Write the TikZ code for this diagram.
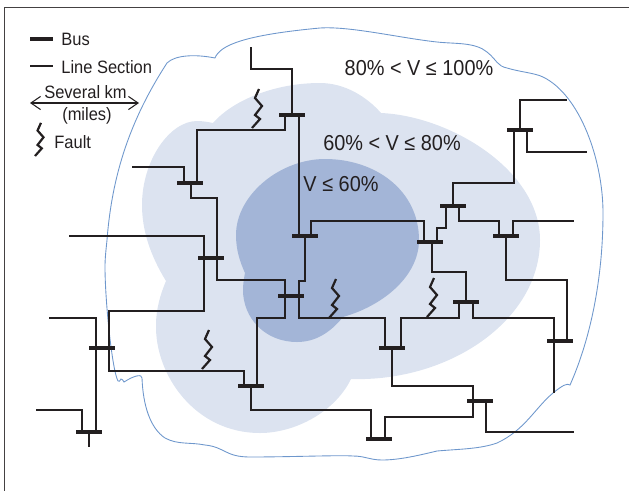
\documentclass[tikz,border=0pt]{standalone}
\usepackage{fontspec}
\setmainfont[FakeStretch=0.92]{Liberation Sans}
\usetikzlibrary{arrows.meta}
\definecolor{SagLight}{RGB}{220,227,240}
\definecolor{SagDark}{RGB}{163,181,215}
\definecolor{SagEdge}{RGB}{110,151,204}
\definecolor{InkDark}{RGB}{35,31,32}
\tikzset{
  busbar/.style={fill=InkDark, inner sep=0pt, minimum width=0.52cm, minimum height=2.1pt},
  section/.style={InkDark, line width=0.7pt, line join=miter},
  zonelabel/.style={text=InkDark, font=\fontsize{12.3}{14}\selectfont, inner sep=0pt},
  keylabel/.style={text=InkDark, font=\fontsize{10.2}{12}\selectfont, inner sep=0pt},
  fault/.pic={\draw[InkDark, line width=1.25pt, line join=miter] (7,-39) -- (3,-30) -- (10,-22) -- (3,-13) -- (8,-9) -- (0,0);}
}
\begin{document}
\begin{tikzpicture}[x=0.02cm, y=-0.02cm]
        \useasboundingbox (0,0) rectangle (629,491);
        % Frame
        \coordinate (frameA) at (629,7.5);
        \coordinate (frameB) at (4.5,7.5);
        \coordinate (frameC) at (4.5,491);
        \draw[InkDark!85, line width=0.7pt] (frameA) -- (frameB) -- (frameC);
        % Voltage zones
        \fill[SagLight] (213,123) .. controls (233,100) and (275,83) .. (320,83)
          .. controls (345,83) and (367,97) .. (381,113)
          .. controls (450,116) and (540,170) .. (540,240)
          .. controls (540,320) and (450,382) .. (351,379)
          .. controls (335,412) and (295,433) .. (260,433)
          .. controls (195,433) and (155,375) .. (156,325)
          .. controls (156,310) and (160,295) .. (166,281)
          .. controls (150,255) and (142,230) .. (142,205)
          .. controls (142,160) and (170,121) .. (197,121)
          .. controls (203,121) and (208,122) .. (213,123) -- cycle;
        \fill[SagDark] (245,273) .. controls (240,262) and (236,250) .. (236,235)
          .. controls (236,195) and (280,159) .. (325,159)
          .. controls (375,159) and (419,190) .. (419,240)
          .. controls (419,275) and (385,305) .. (343,317)
          .. controls (330,333) and (315,342) .. (297,342)
          .. controls (265,342) and (243,318) .. (243,290)
          .. controls (243,284) and (244,278) .. (245,273) -- cycle;
        % Outer edge of the 80% zone
        \draw[SagEdge, line width=0.5pt] (107,240) .. controls (112,175) and (130,120) .. (167,63)
          .. controls (175,55) and (195,54) .. (215,58)
          .. controls (220,45) and (245,35) .. (320,28)
          .. controls (350,26) and (400,38) .. (437,42)
          .. controls (455,44) and (475,42) .. (487,52)
          .. controls (497,60) and (497,66) .. (507,68)
          .. controls (520,72) and (535,73) .. (543,77)
          .. controls (580,95) and (603,160) .. (603,213)
          .. controls (603,280) and (590,340) .. (570,385)
          .. controls (567,383) and (563,385) .. (553,393)
          .. controls (535,408) and (525,430) .. (497,443)
          .. controls (480,449) and (460,449) .. (437,451)
          .. controls (420,455) and (400,460) .. (382,460)
          .. controls (370,460) and (365,456) .. (353,456)
          .. controls (340,455) and (290,457) .. (250,457)
          .. controls (225,457) and (225,447) .. (205,445)
          .. controls (190,442) and (178,445) .. (165,438)
          .. controls (150,428) and (143,405) .. (142,378)
          .. controls (142,374) and (135,375) .. (124,382)
          .. controls (123,380) and (122,379) .. (121,379)
          .. controls (120,381) and (119,382) .. (118,381)
          .. controls (112,370) and (105,300) .. (105,267)
          .. controls (105,258) and (106,250) .. (107,240);
        % Buses
        \node[busbar] (bus1) at (292,115) {};
        \node[busbar] (bus2) at (305,236) {};
        \node[busbar] (bus3) at (190,183) {};
        \node[busbar] (bus4) at (211,258) {};
        \node[busbar] (bus5) at (291,296) {};
        \node[busbar] (bus6) at (251,386) {};
        \node[busbar] (bus7) at (102,348) {};
        \node[busbar] (bus8) at (89,432) {};
        \node[busbar] (bus9) at (379,439) {};
        \node[busbar] (bus10) at (392,348) {};
        \node[busbar] (bus11) at (480,401) {};
        \node[busbar] (bus12) at (466,302) {};
        \node[busbar] (bus13) at (430,242) {};
        \node[busbar] (bus14) at (560,341) {};
        \node[busbar] (bus15) at (506,236) {};
        \node[busbar] (bus16) at (453,206) {};
        \node[busbar] (bus17) at (520,130) {};
        % Free line ends
        \coordinate (end1) at (251,47);
        \coordinate (end2) at (132,167);
        \coordinate (end3) at (69,236);
        \coordinate (end4) at (49,318);
        \coordinate (end5) at (36,410);
        \coordinate (end6) at (89,447);
        \coordinate (end7) at (567,100);
        \coordinate (end8) at (587,152);
        \coordinate (end9) at (574,221);
        \coordinate (end10) at (574,432);
        \coordinate (end11) at (554,393);
        % Line sections
        \draw[section] (end1) -- ++(0,22) -| (bus1);
        \draw[section] ([shift={(-7,0)}]bus1.center) -- ++(0,15) -| ([shift={(7,0)}]bus3.center);
        \draw[section] ([shift={(7,0)}]bus1.center) -- ([shift={(-6,0)}]bus2.center);
        \draw[section] (end2) -| ([shift={(-6,0)}]bus3.center);
        \draw[section] ([shift={(1,0)}]bus3.center) -- ++(0,15) -| ([shift={(6,0)}]bus4.center);
        \draw[section] ([shift={(6,0)}]bus4.center) -- ++(0,22) -| ([shift={(-6,0)}]bus5.center);
        \draw[section] ([shift={(-6,0)}]bus5.center) -- ++(0,22) -| ([shift={(6,0)}]bus6.center);
        \draw[section] (end3) -| ([shift={(-7,0)}]bus4.center);
        \draw[section] ([shift={(-7,0)}]bus4.center) -- ++(0,53) -| ([shift={(7,0)}]bus7.center);
        \draw[section] ([shift={(7,0)}]bus7.center) -- ++(0,23) -| ([shift={(-7,0)}]bus6.center);
        \draw[section] (end4) -| ([shift={(-6,0)}]bus7.center);
        \draw[section] ([shift={(-6,0)}]bus7.center) -- ([shift={(7,0)}]bus8.center);
        \draw[section] (end5) -| ([shift={(-7,0)}]bus8.center);
        \draw[section] (bus8) -- (end6);
        \draw[section] (bus6) -- ++(0,24) -| ([shift={(-8,0)}]bus9.center);
        \draw[section] ([shift={(6,0)}]bus9.center) -- ++(0,-22) -| ([shift={(-7,0)}]bus11.center);
        \draw[section] ([shift={(-7,0)}]bus11.center) -- ++(0,-15) -| (bus10);
        \draw[section] ([shift={(6,0)}]bus11.center) |- (end10);
        \draw[section] ([shift={(-7,0)}]bus10.center) -- ++(0,-30) -| ([shift={(8,0)}]bus5.center);
        \draw[section] ([shift={(8,0)}]bus5.center) -- ++(0,-15) -| (bus2);
        \draw[section] ([shift={(9,0)}]bus10.center) -- ++(0,-30) -| ([shift={(-7,0)}]bus12.center);
        \draw[section] (bus12) -- ++(0,-30) -| ([shift={(2,0)}]bus13.center);
        \draw[section] ([shift={(7,0)}]bus12.center) -- ++(0,16) -| (end11);
        \draw[section] ([shift={(7,0)}]bus14.center) -- ++(0,-61) -| (bus15);
        \draw[section] ([shift={(-7,0)}]bus15.center) -- ++(0,-15) -| ([shift={(6,0)}]bus16.center);
        \draw[section] ([shift={(7,0)}]bus15.center) |- (end9);
        \draw[section] (bus16) -- ++(0,-23) -| ([shift={(-6,0)}]bus17.center);
        \draw[section] ([shift={(-7,0)}]bus16.center) -- ++(0,22) -| ([shift={(7,0)}]bus13.center);
        \draw[section] ([shift={(-6,0)}]bus13.center) -- ++(0,-21) -| ([shift={(6,0)}]bus2.center);
        \draw[section] (bus17) |- (end7);
        \draw[section] ([shift={(7,0)}]bus17.center) |- (end8);
        % Faults
        \pic at (252,128) {fault};
        \pic at (202,369) {fault};
        \pic at (329,318) {fault};
        \pic at (427,317) {fault};
        % Zone labels
        \node[zonelabel] (zone100) at (419,68) {80\% < V ≤ 100\%};
        \node[zonelabel] (zone80) at (392,143) {60\% < V ≤ 80\%};
        \node[zonelabel] (zone60) at (341,184) {V ≤ 60\%};
        % Key
        \node[busbar, minimum width=0.46cm] (keybus) at (41.5,39) {};
        \node[keylabel, anchor=west] (keybustext) at (61,39) {Bus};
        \coordinate (keylineA) at (30,66);
        \coordinate (keylineB) at (53,66);
        \draw[section] (keylineA) -- (keylineB);
        \node[keylabel, anchor=west] (keylinetext) at (61,67) {Line Section};
        \node[keylabel] (keykm) at (85.5,92) {Several km};
        \node[keylabel] (keymiles) at (87,116) {(miles)};
        \coordinate (keyarrowA) at (30,103);
        \coordinate (keyarrowB) at (139,103);
        \draw[InkDark, line width=0.6pt, {Straight Barb[length=5.5pt,width=7.5pt]}-{Straight Barb[length=5.5pt,width=7.5pt]}] (keyarrowA) -- (keyarrowB);
        \pic[scale=0.85] at (35,156) {fault};
        \node[keylabel, anchor=west] (keyfault) at (54,142) {Fault};
      \end{tikzpicture}
\end{document}
